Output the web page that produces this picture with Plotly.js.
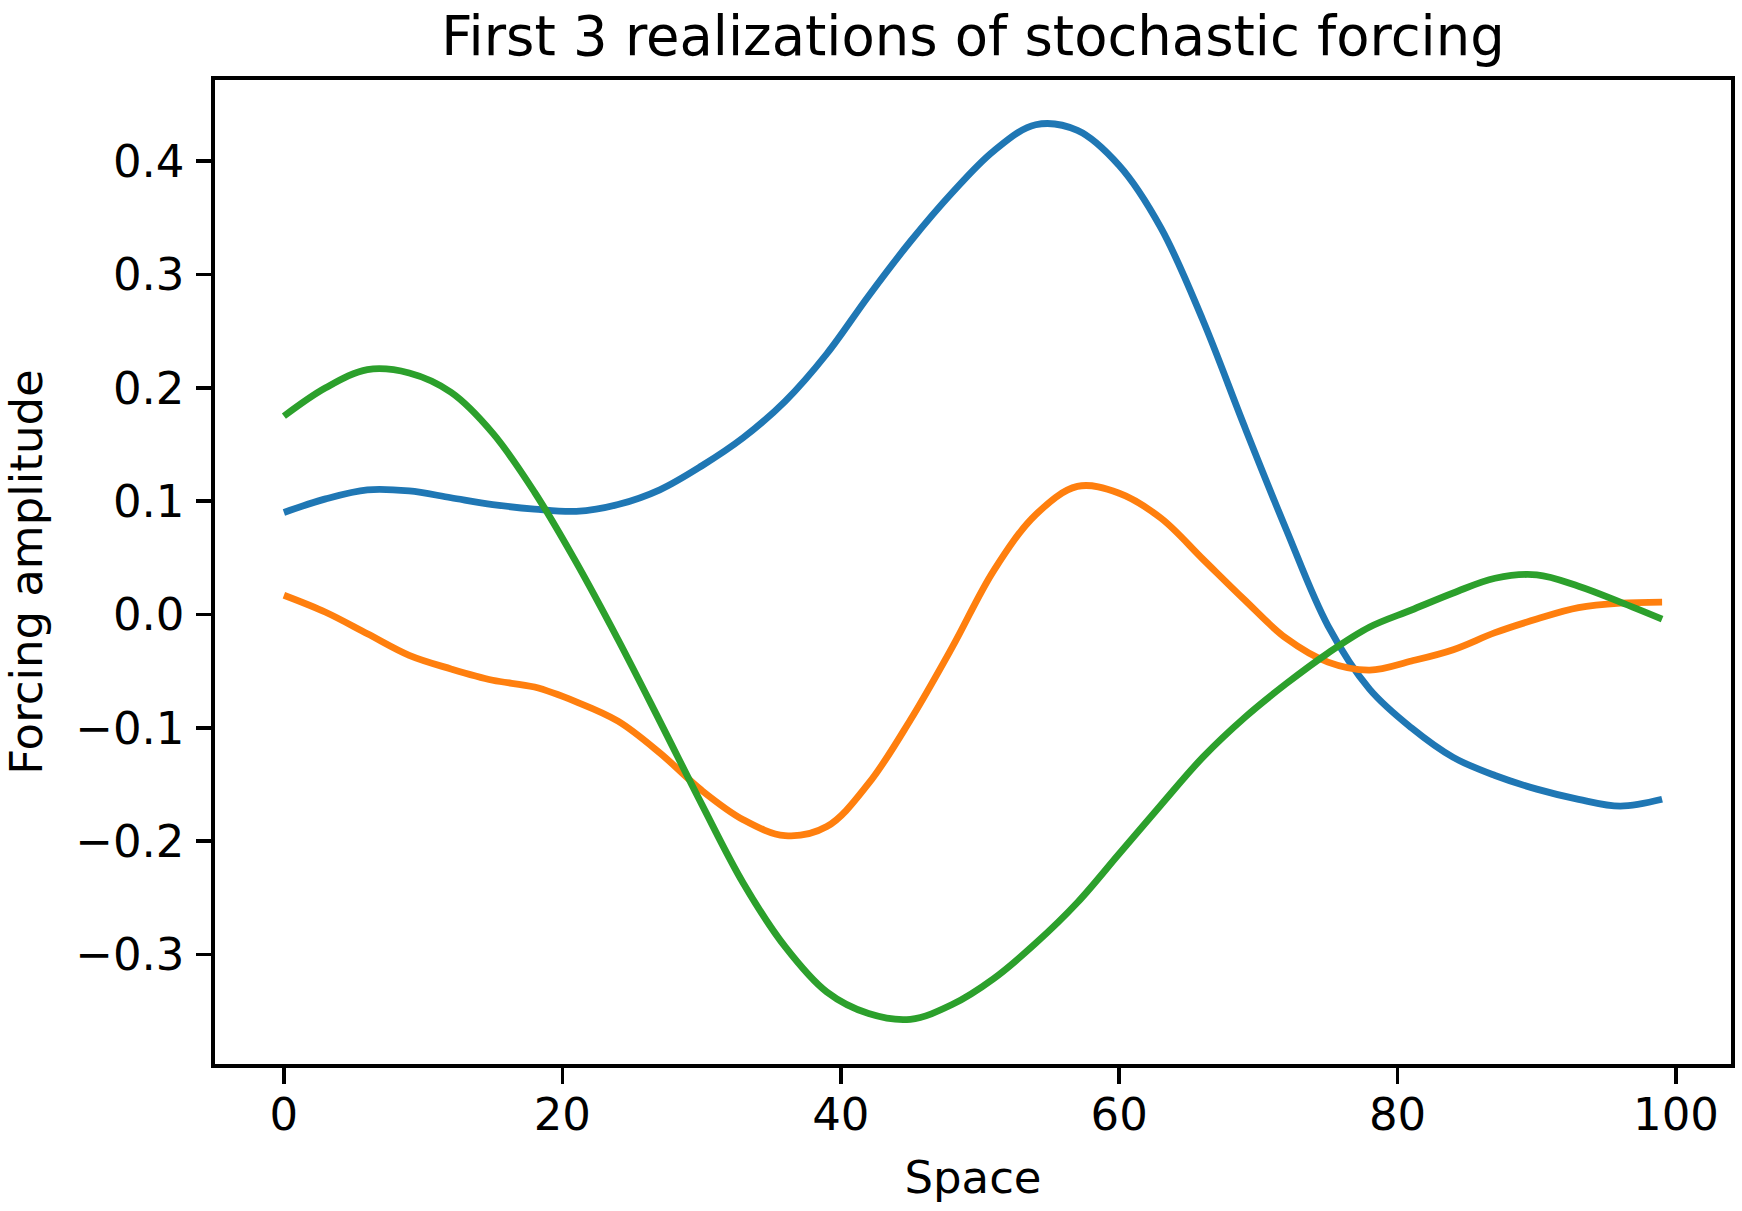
<!DOCTYPE html>
<html>
<head>
<meta charset="utf-8">
<script src="https://cdn.plot.ly/plotly-3.0.1.min.js"></script>
<style>
  html, body { margin: 0; padding: 0; background: #ffffff; }
  #chart { width: 1742px; height: 1211px; }
</style>
</head>
<body>
<div id="chart"></div>
<script>
// Spatial grid positions (sampled every 3 points along the domain)
const space = [0, 3, 6, 9, 12, 15, 18, 21, 24, 27, 30, 33, 36, 39, 42, 45, 48,
               51, 54, 57, 60, 63, 66, 69, 72, 75, 78, 81, 84, 87, 90, 93, 96, 99];

// Forcing amplitude for the first three realizations
const realization1 = [0.090, 0.102, 0.110, 0.109, 0.103, 0.097, 0.093, 0.091, 0.097, 0.110,
                      0.131, 0.156, 0.188, 0.230, 0.281, 0.329, 0.372, 0.409, 0.432, 0.427,
                      0.396, 0.341, 0.260, 0.166, 0.075, -0.010, -0.066, -0.100, -0.126, -0.142,
                      -0.154, -0.163, -0.169, -0.163];

const realization2 = [0.017, 0.002, -0.017, -0.036, -0.048, -0.058, -0.064, -0.077, -0.094, -0.122,
                      -0.155, -0.181, -0.195, -0.187, -0.149, -0.093, -0.029, 0.039, 0.088, 0.113,
                      0.107, 0.085, 0.049, 0.013, -0.021, -0.042, -0.049, -0.041, -0.031, -0.016,
                      -0.004, 0.006, 0.010, 0.011];

const realization3 = [0.175, 0.200, 0.216, 0.213, 0.196, 0.160, 0.108, 0.046, -0.022, -0.094,
                      -0.167, -0.237, -0.293, -0.333, -0.352, -0.357, -0.344, -0.321, -0.290, -0.254,
                      -0.211, -0.168, -0.126, -0.091, -0.061, -0.034, -0.011, 0.004, 0.019, 0.032,
                      0.035, 0.025, 0.011, -0.004];

const xTicks = [0, 20, 40, 60, 80, 100];
const yTicks = [-0.3, -0.2, -0.1, 0.0, 0.1, 0.2, 0.3, 0.4];

const seriesColors = ['#1f77b4', '#ff7f0e', '#2ca02c'];
const seriesValues = [realization1, realization2, realization3];

const traces = seriesValues.map((vals, i) => ({
  type: 'scatter',
  mode: 'lines',
  x: space,
  y: vals,
  line: { color: seriesColors[i], width: 6.8, shape: 'spline', smoothing: 1 },
  showlegend: false,
  hoverinfo: 'x+y'
}));

// Pad the ranges by 5% of the data span on each side
const allVals = realization1.concat(realization2, realization3);
const yMin = Math.min(...allVals), yMax = Math.max(...allVals);
const yPad = (yMax - yMin) * 0.05;
const xMin = Math.min(...space), xMax = Math.max(...space);
const xPad = (xMax - xMin) * 0.05;

const font = 'DejaVu Sans, sans-serif';
const labelSize = 45;

const axisCommon = {
  showgrid: false,
  zeroline: false,
  showline: true,
  mirror: true,
  linecolor: '#000000',
  linewidth: 3.6,
  ticks: 'outside',
  ticklen: 15.9,
  tickwidth: 3.6,
  tickcolor: '#000000',
  tickfont: { family: font, size: labelSize, color: '#000000' },
  automargin: false
};

const layout = {
  width: 1742,
  height: 1211,
  paper_bgcolor: '#ffffff',
  plot_bgcolor: '#ffffff',
  margin: { l: 214.5, r: 11.3, t: 80, b: 147, pad: 0 },
  title: {
    text: 'First 3 realizations of stochastic forcing',
    font: { family: font, size: 54.4, color: '#000000' },
    x: 0.5, xref: 'paper', xanchor: 'center',
    y: 1 - 35.5 / 1211, yref: 'container', yanchor: 'middle'
  },
  xaxis: Object.assign({}, axisCommon, {
    range: [xMin - xPad, xMax + xPad],
    tickmode: 'array',
    tickvals: xTicks,
    ticktext: xTicks.map(String),
    ticklabelstandoff: -8,
    title: { text: 'Space', font: { family: font, size: labelSize, color: '#000000' }, standoff: 23 }
  }),
  yaxis: Object.assign({}, axisCommon, {
    range: [yMin - yPad, yMax + yPad],
    tickmode: 'array',
    tickvals: yTicks,
    tickformat: '.1f',
    ticklabelstandoff: 2,
    title: { text: 'Forcing amplitude', font: { family: font, size: labelSize, color: '#000000' }, standoff: 26 }
  })
};

Plotly.newPlot('chart', traces, layout, { displayModeBar: false, staticPlot: true });
</script>
</body>
</html>
